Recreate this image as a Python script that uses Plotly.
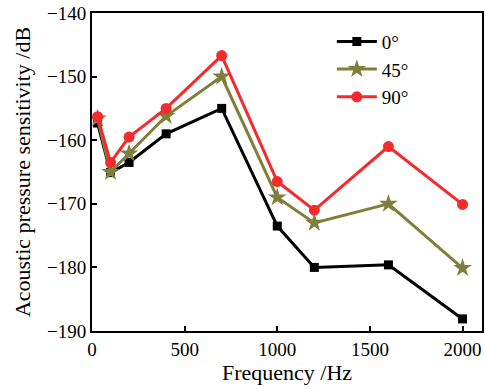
import plotly.graph_objects as go

freq = [30, 100, 200, 400, 700, 1000, 1200, 1600, 2000]
s0 = [-157.3, -165.1, -163.5, -159.0, -155.0, -173.5, -180.0, -179.6, -188.1]
s45 = [-156.6, -165.0, -162.1, -156.2, -150.0, -169.0, -173.0, -170.0, -180.1]
s90 = [-156.3, -163.5, -159.5, -155.0, -146.7, -166.5, -171.0, -161.0, -170.1]
names = ["0°", "45°", "90°"]

fig = go.Figure()
fig.add_trace(go.Scatter(x=freq, y=s0, name=names[0], mode="lines+markers",
                         line=dict(color="black", width=3),
                         marker=dict(symbol="square", size=9, color="black")))
fig.add_trace(go.Scatter(x=freq, y=s45, name=names[1], mode="lines+markers",
                         line=dict(color="#7f7f3a", width=3),
                         marker=dict(symbol="star", size=14, color="#7f7f3a")))
fig.add_trace(go.Scatter(x=freq, y=s90, name=names[2], mode="lines+markers",
                         line=dict(color="#f52a2a", width=3),
                         marker=dict(symbol="circle", size=11, color="#f52a2a")))

font = dict(family="Liberation Serif, DejaVu Serif, serif", size=19, color="black")
fig.update_layout(
    width=486, height=389,
    margin=dict(l=92, r=2, t=13, b=58),
    paper_bgcolor="white", plot_bgcolor="white",
    font=font,
    showlegend=True,
    legend=dict(x=0.615, y=0.97, xanchor="left", yanchor="top",
                bgcolor="rgba(0,0,0,0)", font=dict(size=19),
                tracegroupgap=0, itemwidth=40),
)
fig.update_xaxes(range=[0, 2105], tickvals=[0, 500, 1000, 1500, 2000],
                 showline=True, linecolor="black", linewidth=2, mirror=True,
                 ticks="inside", ticklen=5, tickwidth=2, tickcolor="black",
                 showgrid=False, zeroline=False,
                 title=dict(text="Frequency /Hz", standoff=2, font=dict(size=22)))
fig.update_yaxes(range=[-190, -140], tickvals=[-190, -180, -170, -160, -150, -140],
                 showline=True, linecolor="black", linewidth=2, mirror=True,
                 ticks="inside", ticklen=5, tickwidth=2, tickcolor="black",
                 showgrid=False, zeroline=False,
                 title=dict(text="Acoustic pressure sensitivity /dB", standoff=10, font=dict(size=22)))

fig.write_html("out.html")
